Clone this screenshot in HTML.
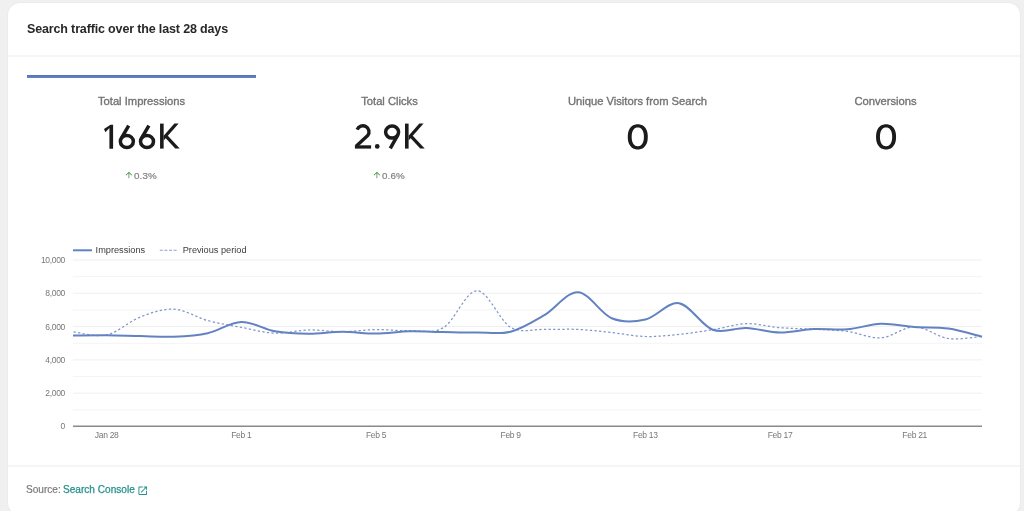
<!DOCTYPE html>
<html><head><meta charset="utf-8"><style>
*{box-sizing:border-box;margin:0;padding:0}
html,body{width:1024px;height:511px;overflow:hidden;background:#f0f0f1;font-family:"Liberation Sans",sans-serif}
.card{position:absolute;left:8px;top:3px;width:1012px;height:512px;background:#fff;border-radius:12px;box-shadow:0 0 2px rgba(30,30,90,0.07)}
.abs{position:absolute;white-space:nowrap}
.title{left:26.5px;top:23px;font-size:12.5px;line-height:12.5px;letter-spacing:-0.15px;font-weight:700;color:#282828}
.hr1{left:8px;top:55px;width:1012px;height:2px;background:#f4f5f7}
.tab{left:27px;top:75px;width:229px;height:3px;background:linear-gradient(#5371b4,#5d7cbc 50%,#6785c1)}
.col{position:absolute;top:0;width:229px;text-align:center}
.lab{position:absolute;left:0;width:229px;top:95.7px;font-size:11.2px;line-height:11.2px;color:#737373;text-align:center;-webkit-text-stroke:0.35px #737373}
.chg{top:171.2px;font-size:9.8px;line-height:9.8px;letter-spacing:0.15px;color:#808080;-webkit-text-stroke:0.2px #808080}
.chg svg{display:inline-block;vertical-align:-1px;margin-right:1px}
.hr2{left:8px;top:465px;width:1012px;height:2px;background:#f4f5f7}
.src{left:26.3px;top:484.7px;font-size:10.1px;line-height:10.1px;color:#7a7a7a;-webkit-text-stroke:0.2px #7a7a7a}
.src a{color:#25908c;text-decoration:none;-webkit-text-stroke:0.25px #25908c}
svg.chart{position:absolute;left:0;top:0}
.abs,.col,svg{will-change:transform}
</style></head><body>
<div class="card"></div>
<div class="abs title">Search traffic over the last 28 days</div>
<div class="abs hr1"></div>
<div class="abs tab"></div>
<div class="col" style="left:27px">
 <div class="lab">Total Impressions</div>
</div>
<div class="col" style="left:275px">
 <div class="lab">Total Clicks</div>
</div>
<div class="col" style="left:523px">
 <div class="lab">Unique Visitors from Search</div>
</div>
<div class="col" style="left:771px">
 <div class="lab">Conversions</div>
</div>
<svg style="position:absolute;left:124.1px;top:169.8px" width="9.8" height="9.8" viewBox="0 0 24 24"><path fill="#4a9444" d="M4 12l1.41 1.41L11 7.83V20h2V7.83l5.58 5.59L20 12l-8-8-8 8z"/></svg>
<div class="abs chg" style="left:134px">0.3%</div>
<svg style="position:absolute;left:372.3px;top:169.8px" width="9.8" height="9.8" viewBox="0 0 24 24"><path fill="#4a9444" d="M4 12l1.41 1.41L11 7.83V20h2V7.83l5.58 5.59L20 12l-8-8-8 8z"/></svg>
<div class="abs chg" style="left:382.2px">0.6%</div>
<svg class="vals" width="1024" height="200" viewBox="0 0 1024 200" style="position:absolute;left:0;top:0" fill="#1b1b1b" stroke="#1b1b1b" stroke-linecap="butt"><polygon stroke="none" points="109.40,148.70 113.10,148.70 113.10,124.80 110.50,124.80 104.00,129.10 105.40,132.20 109.40,128.00"/><ellipse cx="126.85" cy="141.45" rx="6.5" ry="6.0" fill="none" stroke-width="3.5"/><path d="M128.70,125.55 L121.12,138.62" fill="none" stroke-width="3.5"/><ellipse cx="147.00" cy="141.45" rx="6.5" ry="6.0" fill="none" stroke-width="3.5"/><path d="M148.90,125.55 L141.28,138.60" fill="none" stroke-width="3.5"/><rect stroke="none" x="160.05" y="123.60" width="3.6" height="25.00"/><polygon stroke="none" points="174.35,123.60 178.65,123.60 163.65,140.50 163.65,135.70"/><polygon stroke="none" points="175.25,148.60 179.75,148.60 167.85,135.70 163.65,135.90"/><path d="M357.17,129.71 A6.1,6.1 0 1,1 367.71,135.56 L356.10,146.20" fill="none" stroke-width="3.4" stroke-linejoin="round"/><rect stroke="none" x="354.90" y="145.3" width="16.2" height="3.3"/><circle stroke="none" cx="377.25" cy="146.40" r="2.35"/><ellipse cx="392.10" cy="132.10" rx="6.5" ry="6.0" fill="none" stroke-width="3.5"/><path d="M390.30,148.40 L397.88,134.85" fill="none" stroke-width="3.5"/><rect stroke="none" x="405.00" y="123.60" width="3.6" height="25.00"/><polygon stroke="none" points="419.30,123.60 423.60,123.60 408.60,140.50 408.60,135.70"/><polygon stroke="none" points="420.20,148.60 424.70,148.60 412.80,135.70 408.60,135.90"/><path stroke="none" fill-rule="evenodd" d="M647.78,136.85 L647.75,138.29 L647.64,139.51 L647.48,140.64 L647.24,141.71 L646.94,142.71 L646.58,143.65 L646.16,144.54 L645.67,145.36 L645.13,146.11 L644.53,146.79 L643.88,147.40 L643.18,147.94 L642.43,148.39 L641.63,148.77 L640.79,149.07 L639.89,149.28 L638.92,149.41 L637.78,149.45 L636.64,149.41 L635.67,149.28 L634.77,149.07 L633.93,148.77 L633.13,148.39 L632.38,147.94 L631.68,147.40 L631.03,146.79 L630.43,146.11 L629.89,145.36 L629.40,144.54 L628.98,143.65 L628.62,142.71 L628.32,141.71 L628.08,140.64 L627.92,139.51 L627.81,138.29 L627.78,136.85 L627.81,135.41 L627.92,134.19 L628.08,133.06 L628.32,131.99 L628.62,130.99 L628.98,130.05 L629.40,129.16 L629.89,128.34 L630.43,127.59 L631.03,126.91 L631.68,126.30 L632.38,125.76 L633.13,125.31 L633.93,124.93 L634.77,124.63 L635.67,124.42 L636.64,124.29 L637.78,124.25 L638.92,124.29 L639.89,124.42 L640.79,124.63 L641.63,124.93 L642.43,125.31 L643.18,125.76 L643.88,126.30 L644.53,126.91 L645.13,127.59 L645.67,128.34 L646.16,129.16 L646.58,130.05 L646.94,130.99 L647.24,131.99 L647.48,133.06 L647.64,134.19 L647.75,135.41 Z M643.88,136.85 L643.86,137.92 L643.80,138.83 L643.69,139.68 L643.55,140.47 L643.37,141.22 L643.15,141.93 L642.89,142.59 L642.59,143.20 L642.26,143.76 L641.90,144.27 L641.50,144.72 L641.07,145.12 L640.62,145.46 L640.13,145.74 L639.61,145.96 L639.07,146.12 L638.48,146.22 L637.78,146.25 L637.08,146.22 L636.49,146.12 L635.95,145.96 L635.43,145.74 L634.94,145.46 L634.49,145.12 L634.06,144.72 L633.66,144.27 L633.30,143.76 L632.97,143.20 L632.67,142.59 L632.41,141.93 L632.19,141.22 L632.01,140.47 L631.87,139.68 L631.76,138.83 L631.70,137.92 L631.68,136.85 L631.70,135.78 L631.76,134.87 L631.87,134.02 L632.01,133.23 L632.19,132.48 L632.41,131.77 L632.67,131.11 L632.97,130.50 L633.30,129.94 L633.66,129.43 L634.06,128.98 L634.49,128.58 L634.94,128.24 L635.43,127.96 L635.95,127.74 L636.49,127.58 L637.08,127.48 L637.78,127.45 L638.48,127.48 L639.07,127.58 L639.61,127.74 L640.13,127.96 L640.62,128.24 L641.07,128.58 L641.50,128.98 L641.90,129.43 L642.26,129.94 L642.59,130.50 L642.89,131.11 L643.15,131.77 L643.37,132.48 L643.55,133.23 L643.69,134.02 L643.80,134.87 L643.86,135.78 Z"/><path stroke="none" fill-rule="evenodd" d="M896.05,136.85 L896.02,138.29 L895.91,139.51 L895.75,140.64 L895.51,141.71 L895.21,142.71 L894.85,143.65 L894.43,144.54 L893.94,145.36 L893.40,146.11 L892.80,146.79 L892.15,147.40 L891.45,147.94 L890.70,148.39 L889.90,148.77 L889.06,149.07 L888.16,149.28 L887.19,149.41 L886.05,149.45 L884.91,149.41 L883.94,149.28 L883.04,149.07 L882.20,148.77 L881.40,148.39 L880.65,147.94 L879.95,147.40 L879.30,146.79 L878.70,146.11 L878.16,145.36 L877.67,144.54 L877.25,143.65 L876.89,142.71 L876.59,141.71 L876.35,140.64 L876.19,139.51 L876.08,138.29 L876.05,136.85 L876.08,135.41 L876.19,134.19 L876.35,133.06 L876.59,131.99 L876.89,130.99 L877.25,130.05 L877.67,129.16 L878.16,128.34 L878.70,127.59 L879.30,126.91 L879.95,126.30 L880.65,125.76 L881.40,125.31 L882.20,124.93 L883.04,124.63 L883.94,124.42 L884.91,124.29 L886.05,124.25 L887.19,124.29 L888.16,124.42 L889.06,124.63 L889.90,124.93 L890.70,125.31 L891.45,125.76 L892.15,126.30 L892.80,126.91 L893.40,127.59 L893.94,128.34 L894.43,129.16 L894.85,130.05 L895.21,130.99 L895.51,131.99 L895.75,133.06 L895.91,134.19 L896.02,135.41 Z M892.15,136.85 L892.13,137.92 L892.07,138.83 L891.96,139.68 L891.82,140.47 L891.64,141.22 L891.42,141.93 L891.16,142.59 L890.86,143.20 L890.53,143.76 L890.17,144.27 L889.77,144.72 L889.34,145.12 L888.89,145.46 L888.40,145.74 L887.88,145.96 L887.34,146.12 L886.75,146.22 L886.05,146.25 L885.35,146.22 L884.76,146.12 L884.22,145.96 L883.70,145.74 L883.21,145.46 L882.76,145.12 L882.33,144.72 L881.93,144.27 L881.57,143.76 L881.24,143.20 L880.94,142.59 L880.68,141.93 L880.46,141.22 L880.28,140.47 L880.14,139.68 L880.03,138.83 L879.97,137.92 L879.95,136.85 L879.97,135.78 L880.03,134.87 L880.14,134.02 L880.28,133.23 L880.46,132.48 L880.68,131.77 L880.94,131.11 L881.24,130.50 L881.57,129.94 L881.93,129.43 L882.33,128.98 L882.76,128.58 L883.21,128.24 L883.70,127.96 L884.22,127.74 L884.76,127.58 L885.35,127.48 L886.05,127.45 L886.75,127.48 L887.34,127.58 L887.88,127.74 L888.40,127.96 L888.89,128.24 L889.34,128.58 L889.77,128.98 L890.17,129.43 L890.53,129.94 L890.86,130.50 L891.16,131.11 L891.42,131.77 L891.64,132.48 L891.82,133.23 L891.96,134.02 L892.07,134.87 L892.13,135.78 Z"/></svg>
<svg class="chart" width="1024" height="511" viewBox="0 0 1024 511" font-family="Liberation Sans" font-size="8">
 <line x1="73" x2="982" y1="260.00" y2="260.00" stroke="#efefef" stroke-width="1"/><line x1="73" x2="982" y1="276.65" y2="276.65" stroke="#f4f4f4" stroke-width="1"/><line x1="73" x2="982" y1="293.30" y2="293.30" stroke="#efefef" stroke-width="1"/><line x1="73" x2="982" y1="309.95" y2="309.95" stroke="#f4f4f4" stroke-width="1"/><line x1="73" x2="982" y1="326.60" y2="326.60" stroke="#efefef" stroke-width="1"/><line x1="73" x2="982" y1="343.25" y2="343.25" stroke="#f4f4f4" stroke-width="1"/><line x1="73" x2="982" y1="359.90" y2="359.90" stroke="#efefef" stroke-width="1"/><line x1="73" x2="982" y1="376.55" y2="376.55" stroke="#f4f4f4" stroke-width="1"/><line x1="73" x2="982" y1="393.20" y2="393.20" stroke="#efefef" stroke-width="1"/><line x1="73" x2="982" y1="409.85" y2="409.85" stroke="#f4f4f4" stroke-width="1"/>
 <line x1="73" x2="982" y1="426.2" y2="426.2" stroke="#8a8a8a" stroke-width="1.4"/>
 <g fill="#777" font-size="8.5" letter-spacing="-0.35"><text x="64.9" y="262.90" text-anchor="end">10,000</text><text x="64.9" y="296.20" text-anchor="end">8,000</text><text x="64.9" y="329.50" text-anchor="end">6,000</text><text x="64.9" y="362.80" text-anchor="end">4,000</text><text x="64.9" y="396.10" text-anchor="end">2,000</text><text x="64.9" y="429.40" text-anchor="end">0</text></g>
 <g fill="#777" font-size="8.5" letter-spacing="-0.3"><text x="106.67" y="438" text-anchor="middle">Jan 28</text><text x="241.33" y="438" text-anchor="middle">Feb 1</text><text x="376.00" y="438" text-anchor="middle">Feb 5</text><text x="510.67" y="438" text-anchor="middle">Feb 9</text><text x="645.33" y="438" text-anchor="middle">Feb 13</text><text x="780.00" y="438" text-anchor="middle">Feb 17</text><text x="914.67" y="438" text-anchor="middle">Feb 21</text></g>
 <line x1="73" x2="92" y1="250.3" y2="250.3" stroke="#6382c1" stroke-width="2"/>
 <text x="95.6" y="253.4" font-size="9.2" fill="#3c3c3c">Impressions</text>
 <line x1="159.8" x2="177" y1="250.3" y2="250.3" stroke="#8aa0d4" stroke-width="1.1" stroke-dasharray="3 1.6"/>
 <text x="182.7" y="253.4" font-size="9.2" fill="#3c3c3c">Previous period</text>
 <path d="M73.00,331.80 C78.61,332.33 95.44,337.47 106.67,335.00 C117.89,332.53 129.11,321.30 140.33,317.00 C151.56,312.70 162.78,308.62 174.00,309.20 C185.22,309.78 196.44,317.47 207.67,320.50 C218.89,323.53 230.11,325.28 241.33,327.40 C252.56,329.52 263.78,332.77 275.00,333.20 C286.22,333.63 297.44,330.25 308.67,330.00 C319.89,329.75 331.11,331.77 342.33,331.70 C353.56,331.63 364.78,329.78 376.00,329.60 C387.22,329.42 398.44,330.92 409.67,330.60 C420.89,330.28 432.11,334.33 443.33,327.70 C454.56,321.07 465.78,290.87 477.00,290.80 C488.22,290.73 499.44,320.87 510.67,327.30 C521.89,333.73 533.11,329.05 544.33,329.40 C555.56,329.75 566.78,328.87 578.00,329.40 C589.22,329.93 600.44,331.42 611.67,332.60 C622.89,333.78 634.11,336.20 645.33,336.50 C656.56,336.80 667.78,335.53 679.00,334.40 C690.22,333.27 701.44,331.48 712.67,329.70 C723.89,327.92 735.11,324.03 746.33,323.70 C757.56,323.37 768.78,326.78 780.00,327.70 C791.22,328.62 802.44,328.58 813.67,329.20 C824.89,329.82 836.11,329.97 847.33,331.40 C858.56,332.83 869.78,338.57 881.00,337.80 C892.22,337.03 903.44,326.68 914.67,326.80 C925.89,326.92 937.11,336.90 948.33,338.50 C959.56,340.10 976.39,336.75 982.00,336.40" fill="none" stroke="#7e96cc" stroke-width="1.25" stroke-dasharray="2.3 2.3" stroke-dashoffset="-0.7"/>
 <path d="M73.00,335.50 C78.61,335.47 95.44,335.20 106.67,335.30 C117.89,335.40 129.11,335.87 140.33,336.10 C151.56,336.33 162.78,337.18 174.00,336.70 C185.22,336.22 196.44,335.65 207.67,333.20 C218.89,330.75 230.11,322.32 241.33,322.00 C252.56,321.68 263.78,329.33 275.00,331.30 C286.22,333.27 297.44,333.72 308.67,333.80 C319.89,333.88 331.11,331.83 342.33,331.80 C353.56,331.77 364.78,333.68 376.00,333.60 C387.22,333.52 398.44,331.57 409.67,331.30 C420.89,331.03 432.11,331.80 443.33,332.00 C454.56,332.20 465.78,332.55 477.00,332.50 C488.22,332.45 499.44,334.58 510.67,331.70 C521.89,328.82 533.11,321.78 544.33,315.20 C555.56,308.62 566.78,291.70 578.00,292.20 C589.22,292.70 600.44,313.65 611.67,318.20 C622.89,322.75 634.11,322.00 645.33,319.50 C656.56,317.00 667.78,301.50 679.00,303.20 C690.22,304.90 701.44,325.57 712.67,329.70 C723.89,333.83 735.11,327.52 746.33,328.00 C757.56,328.48 768.78,332.42 780.00,332.60 C791.22,332.78 802.44,329.65 813.67,329.10 C824.89,328.55 836.11,330.18 847.33,329.30 C858.56,328.42 869.78,324.17 881.00,323.80 C892.22,323.43 903.44,326.30 914.67,327.10 C925.89,327.90 937.11,327.00 948.33,328.60 C959.56,330.20 976.39,335.35 982.00,336.70" fill="none" stroke="#6382c1" stroke-width="2"/>
</svg>
<div class="abs hr2"></div>
<div class="abs src">Source:</div><div class="abs src" style="left:62.8px"><a>Search Console</a></div>
<svg style="position:absolute;left:137.1px;top:484.7px" width="11.5" height="11.5" viewBox="0 0 24 24"><path fill="#25908c" d="M19 19H5V5h7V3H5c-1.11 0-2 .9-2 2v14c0 1.1.89 2 2 2h14c1.1 0 2-.9 2-2v-7h-2v7zM14 3v2h3.59l-9.83 9.83 1.41 1.41L19 6.41V10h2V3h-7z"/></svg>
</body></html>
